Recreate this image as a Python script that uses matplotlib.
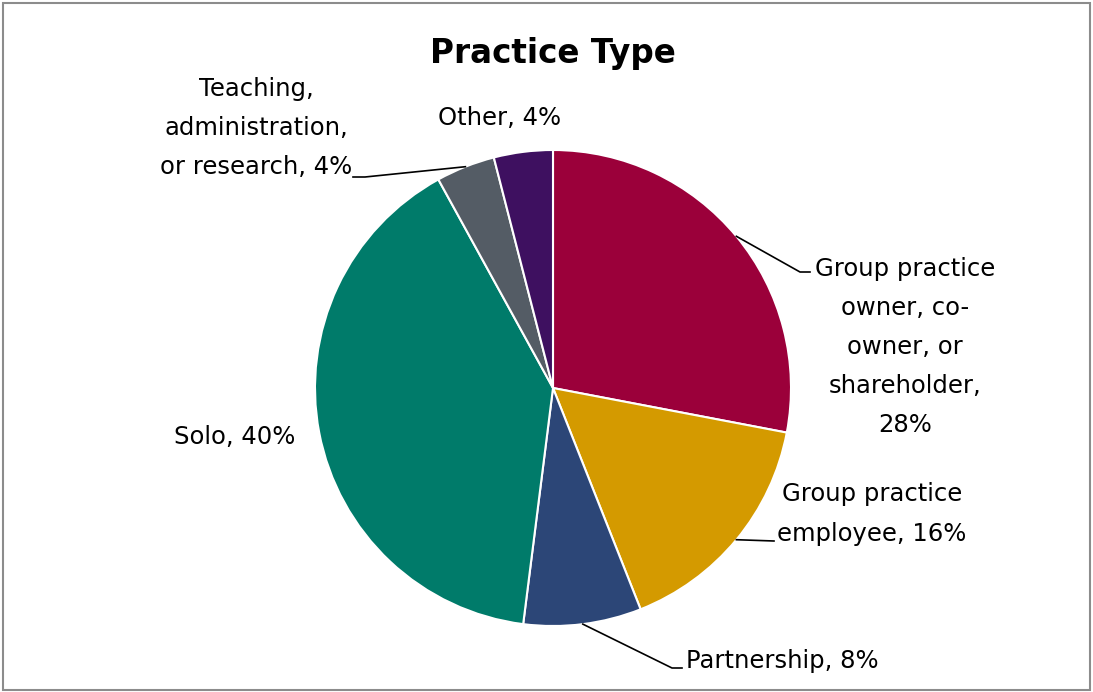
import matplotlib.pyplot as plt
import numpy as np

labels = ["Group practice\nowner, co-\nowner, or\nshareholder,\n28%",
          "Group practice\nemployee, 16%",
          "Partnership, 8%",
          "Solo, 40%",
          "Teaching,\nadministration,\nor research, 4%",
          "Other, 4%"]
values = [28, 16, 8, 40, 4, 4]
colors = ['#9B003A', '#D49A00', '#2C4677', '#007B6A', '#545C65', '#3E1060']

W, H = 1093, 692
cx, cy, R = 553, 388, 238   # pie centre/radius in pixels

fig = plt.figure(figsize=(W/100, H/100), dpi=100)
ax = fig.add_axes([(cx-R)/W, (H-cy-R)/H, 2*R/W, 2*R/H])

wedges, _ = ax.pie(values, colors=colors, startangle=90, counterclock=False,
                   radius=1, wedgeprops=dict(edgecolor='white', linewidth=1.5))
ax.set_xlim(-1, 1)
ax.set_ylim(-1, 1)
ax.set_aspect('equal')
ax.axis('off')

def px(x, y):
    # pixel -> data coords
    return (x-cx)/R, (cy-y)/R

fs = 17.5
# label positions (pixel) and leader elbows
lab = [
    dict(xy=(905, 347), ha='center', elbow=(800, 272), end=(810, 272)),
    dict(xy=(872, 514), ha='center', elbow=None, end=(774, 541)),
    dict(xy=(686, 661), ha='left', elbow=(672, 668), end=(682, 668)),
    dict(xy=(235, 437), ha='center', elbow=None, end=None),
    dict(xy=(256, 128), ha='center', elbow=(365, 177), end=(353, 177)),
    dict(xy=(500, 118), ha='center', elbow=None, end=None),
]

for w, t, d in zip(wedges, labels, lab):
    tx, ty = px(*d['xy'])
    ax.text(tx, ty, t, ha=d['ha'], va='center', fontsize=fs, linespacing=1.8,
            multialignment='center', clip_on=False)
    if d['end'] is not None:
        ang = np.deg2rad((w.theta1 + w.theta2) / 2)
        pts = [(np.cos(ang), np.sin(ang))]
        if d['elbow'] is not None:
            pts.append(px(*d['elbow']))
        pts.append(px(*d['end']))
        pts = np.array(pts)
        ax.plot(pts[:, 0], pts[:, 1], color='black', lw=1.2, clip_on=False)

fig.text(cx/W, 1-53/H, 'Practice Type', ha='center', va='center',
         fontsize=23.5, fontweight='bold')

# outer frame
fig.patches.append(plt.Rectangle((3/W, 2/H), 1-6/W, 1-5/H, transform=fig.transFigure,
                                 fill=False, edgecolor='#8c8c8c', lw=1.5))

fig.savefig('out.png', dpi=100)
